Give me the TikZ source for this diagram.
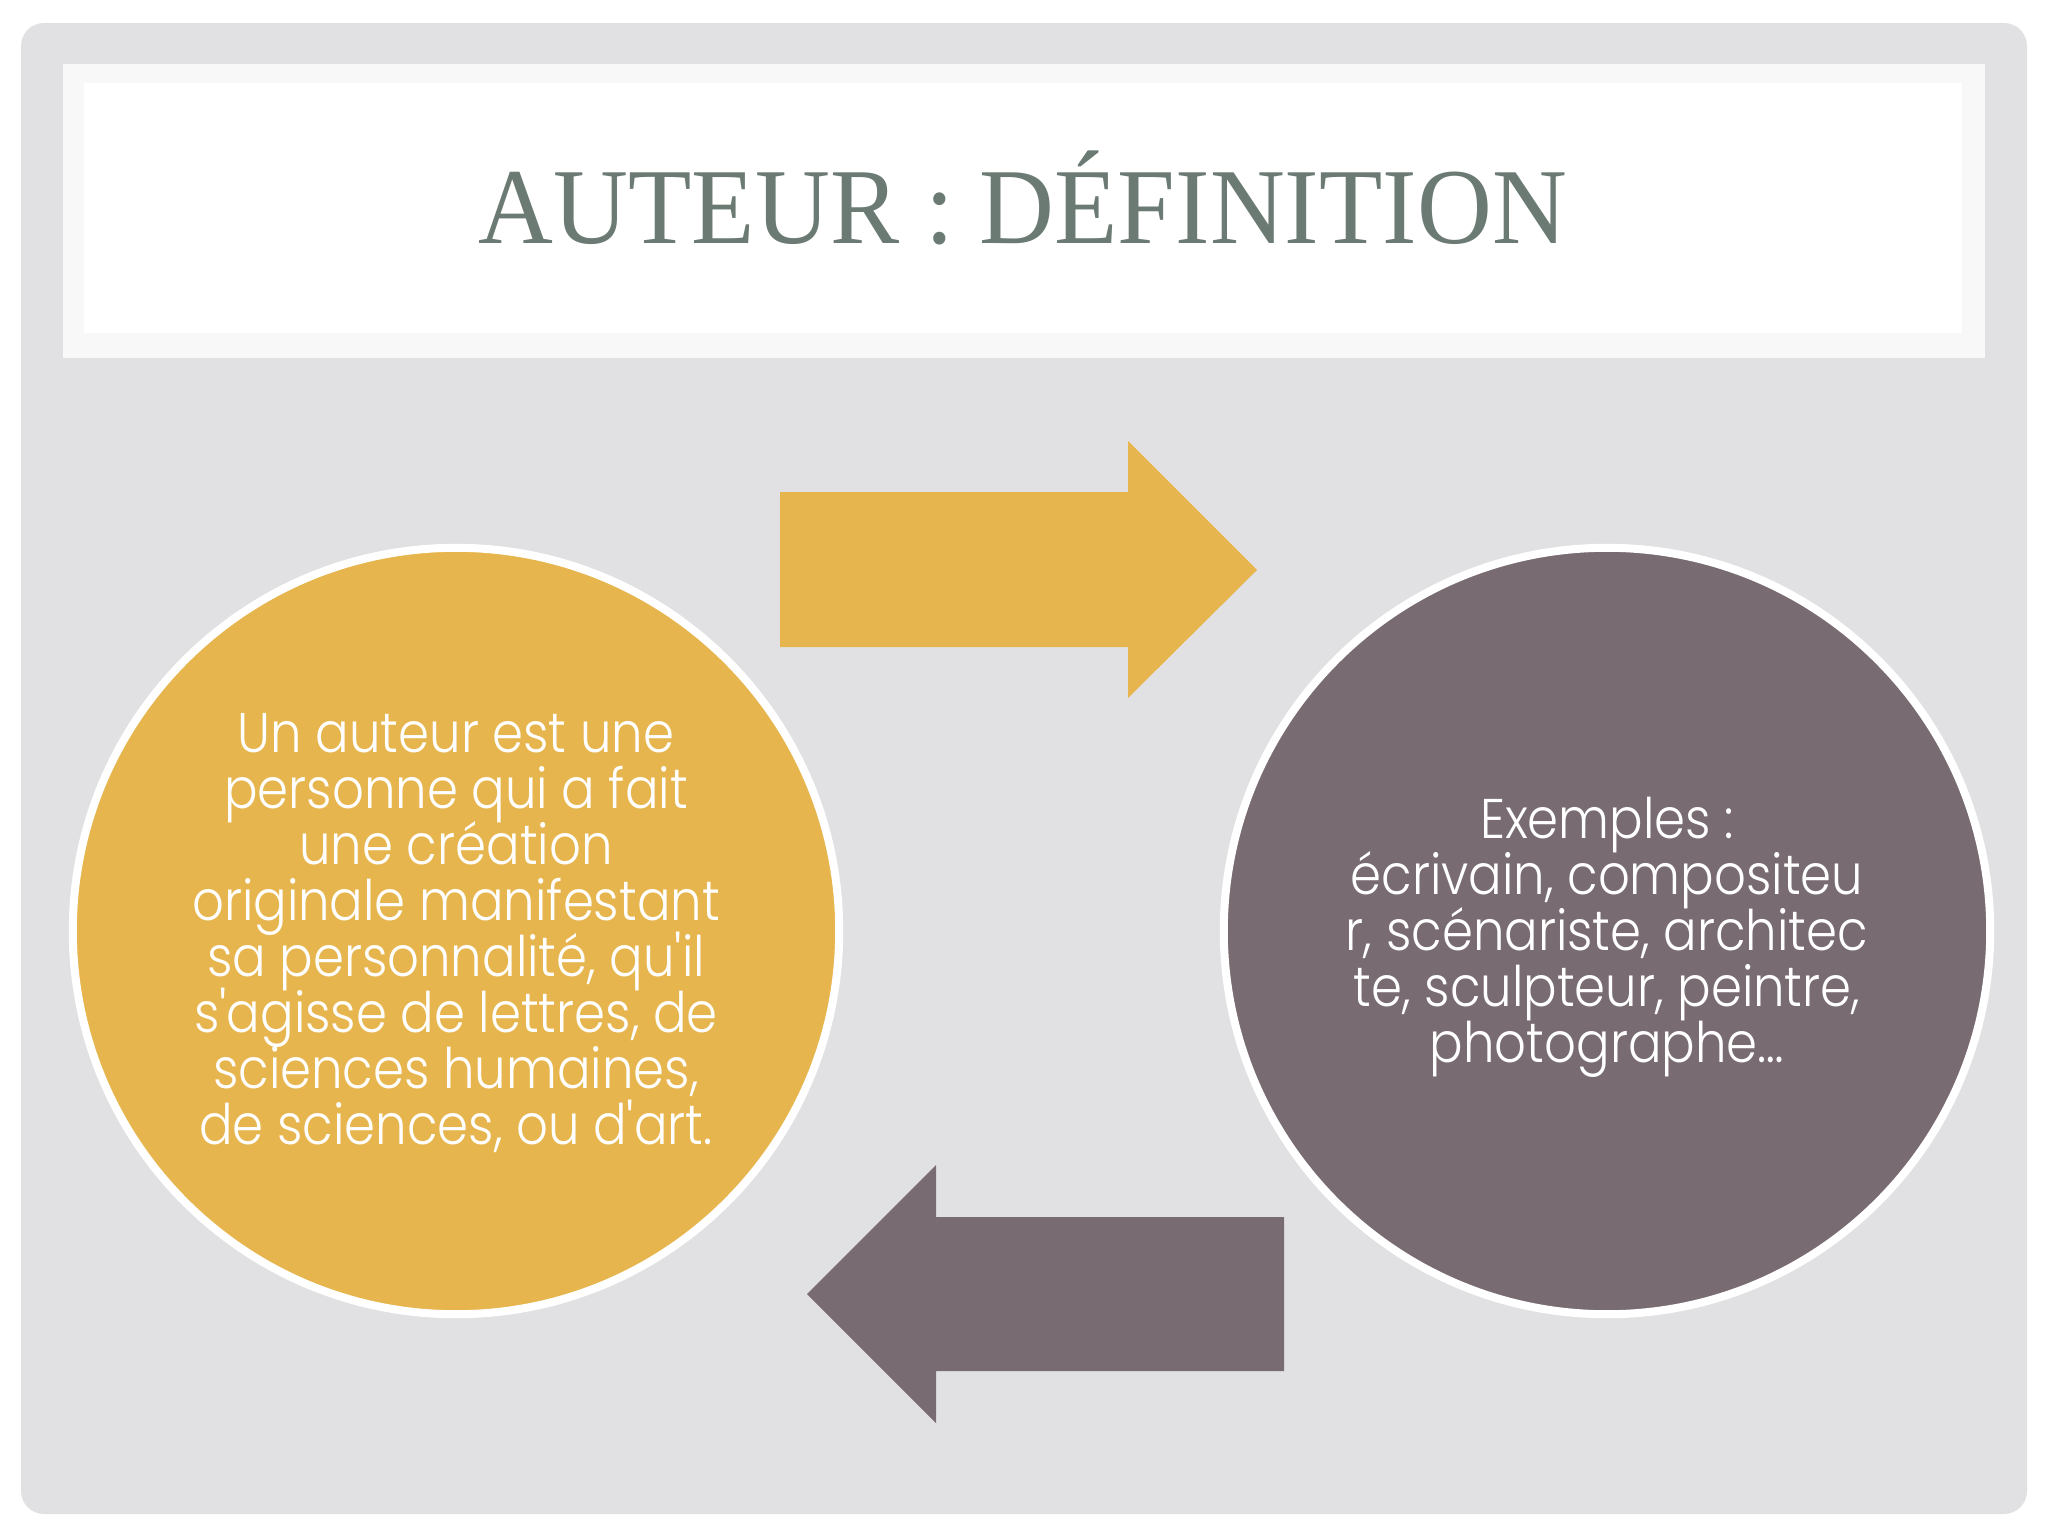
\documentclass[tikz,border=0pt]{standalone}
\usepackage{fontspec}
\newfontfamily\titlefont{Liberation Serif}[FakeStretch=0.96]
\newfontfamily\bodyfont{Poppins Light}[FakeStretch=0.89]
\newcommand\bubblefont{\bodyfont\fontsize{15.9}{15.93}\selectfont\lineskiplimit -100pt\lineskip 0pt\relax}
\definecolor{bggray}{HTML}{E1E1E3}
\definecolor{titleouter}{HTML}{F8F8F8}
\definecolor{titlecol}{HTML}{6B7B73}
\definecolor{gold}{HTML}{E7B54E}
\definecolor{mauve}{HTML}{786B72}
\tikzset{
  bubble/.style={circle, draw=white, line width=0.08cm, minimum size=7.66cm, inner sep=0pt, outer sep=0pt},
  bubbletext/.style={align=center, text=white, inner sep=0pt, font=\bubblefont}
}
\begin{document}
\begin{tikzpicture}[x=0.01cm,y=-0.01cm]
\useasboundingbox (0,0) rectangle (2048,1536);
\fill[white] (0,0) rectangle (2048,1536);
\fill[bggray, rounded corners=0.23cm] (21,23) rectangle (2027,1514);
\fill[titleouter] (63,64) rectangle (1985,358);
\fill[white] (84,83) rectangle (1962,333);
\node[anchor=base, text=titlecol, inner sep=0pt, font=\titlefont\fontsize{30.7}{32}\selectfont] (title) at (1023,243) {AUTEUR : DÉFINITION};
% arrows
\fill[gold] (780,492) -- (1128,492) -- (1128,441) -- (1257,570) -- (1128,698) -- (1128,647) -- (780,647) -- cycle;
\fill[mauve] (1284,1217) -- (936,1217) -- (936,1165) -- (807,1294) -- (936,1423) -- (936,1371) -- (1284,1371) -- cycle;
% circles
\node[bubble, fill=gold] (left) at (456,931) {};
\node[bubble, fill=mauve] (right) at (1607,931) {};
\node[bubbletext] (ltext) at (456,933) {Un auteur est une\\personne qui a fait\\une création\\originale manifestant\\sa personnalité, qu\symbol{39}il\\s\symbol{39}agisse de lettres, de\\sciences humaines,\\de sciences, ou d\symbol{39}art.};
\node[bubbletext] (rtext) at (1607,937) {Exemples :\\écrivain, compositeu\\r, scénariste, architec\\te, sculpteur, peintre,\\photographe…};
\end{tikzpicture}
\end{document}
